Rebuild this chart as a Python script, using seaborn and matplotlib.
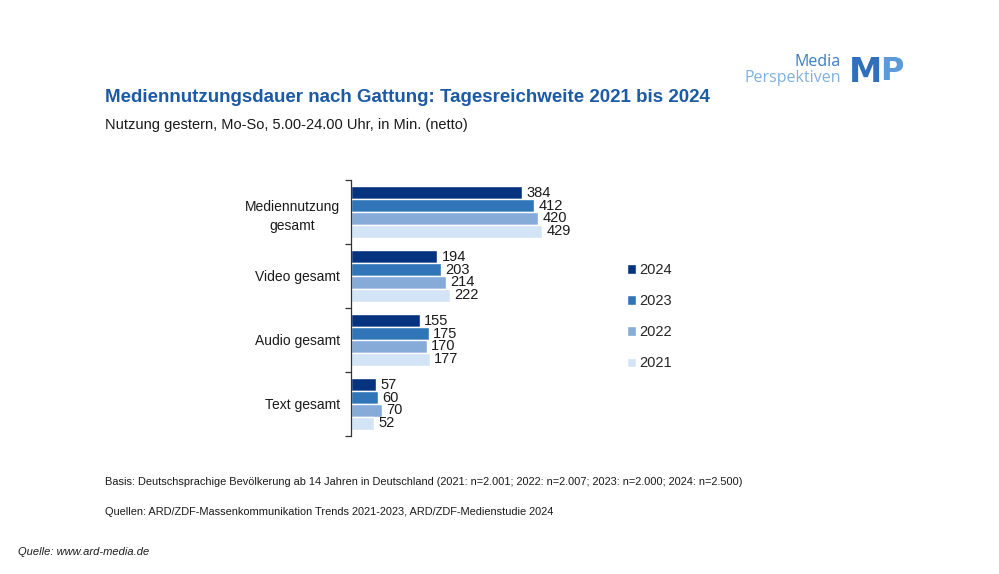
import matplotlib
matplotlib.use("Agg")
import matplotlib.pyplot as plt
import seaborn as sns
import pandas as pd

categories = ["Mediennutzung\ngesamt", "Video gesamt", "Audio gesamt", "Text gesamt"]
years = ["2024", "2023", "2022", "2021"]
values_2024 = [384, 194, 155, 57]
values_2023 = [412, 203, 175, 60]
values_2022 = [420, 214, 170, 70]
values_2021 = [429, 222, 177, 52]
colors = ["#06337f", "#2f75b7", "#86abd8", "#d3e4f7"]

series = {"2024": values_2024, "2023": values_2023, "2022": values_2022, "2021": values_2021}
rows = []
for y in years:
    for c, v in zip(categories, series[y]):
        rows.append({"Kategorie": c, "Jahr": y, "Wert": v})
df = pd.DataFrame(rows)

sns.set_style("white")
FONT = ["Liberation Sans", "DejaVu Sans"]
plt.rcParams["font.family"] = FONT

fig = plt.figure(figsize=(9.99, 5.74), dpi=100)
ax = fig.add_axes([351 / 999, 1 - 436 / 574, 222.6 / 999, 256 / 574])

sns.barplot(data=df, y="Kategorie", x="Wert", hue="Jahr", hue_order=years,
            order=categories, palette=colors, orient="h", width=0.8,
            saturation=1, ax=ax, legend=True)

for cont in ax.containers:
    ax.bar_label(cont, padding=3, fontsize=10.5, color="#1a1a1a")

ax.set_xlim(0, 500)
ax.set_ylim(3.5, -0.5)
ax.set_xlabel("")
ax.set_ylabel("")
ax.set_xticks([])
ax.set_yticks([-0.5, 0.5, 1.5, 2.5, 3.5])
ax.set_yticklabels([])
ax.set_yticks(range(len(categories)), minor=True)
ax.set_yticklabels(categories, minor=True, fontsize=10, color="#1a1a1a", linespacing=1.5)
for lbl in ax.get_yticklabels(minor=True):
    lbl.set_multialignment("center")
ax.tick_params(axis="y", which="major", length=4, width=0.9, color="#333333", direction="out", left=True)
ax.tick_params(axis="y", which="minor", length=0, pad=8)
for s in ["top", "right", "bottom"]:
    ax.spines[s].set_visible(False)
ax.spines["left"].set_color("#333333")
ax.spines["left"].set_linewidth(0.9)

handles, labels = ax.get_legend_handles_labels()
ax.get_legend().remove()
fig.legend(handles, labels, loc="upper left", bbox_to_anchor=(614 / 999, 1 - 250 / 574),
           frameon=False, handlelength=0.6, handleheight=0.6, handletextpad=0.2,
           labelspacing=1.17, prop={"size": 10.5})

# Titles
fig.text(105 / 999, 1 - 97 / 574, "Mediennutzungsdauer nach Gattung: Tagesreichweite 2021 bis 2024",
         fontsize=13.5, fontweight="bold", color="#1c5aa6", va="center", ha="left")
fig.text(105 / 999, 1 - 125 / 574, "Nutzung gestern, Mo-So, 5.00-24.00 Uhr, in Min. (netto)",
         fontsize=10.5, color="#1a1a1a", va="center", ha="left")

# Footer
fig.text(105 / 999, 1 - 482 / 574,
         "Basis: Deutschsprachige Bevölkerung ab 14 Jahren in Deutschland (2021: n=2.001; 2022: n=2.007; 2023: n=2.000; 2024: n=2.500)",
         fontsize=7.9, color="#1a1a1a", va="center", ha="left")
fig.text(105 / 999, 1 - 512 / 574,
         "Quellen: ARD/ZDF-Massenkommunikation Trends 2021-2023, ARD/ZDF-Medienstudie 2024",
         fontsize=7.9, color="#1a1a1a", va="center", ha="left")
fig.text(18 / 999, 1 - 552 / 574, "Quelle: www.ard-media.de",
         fontsize=8, style="italic", color="#1a1a1a", va="center", ha="left")

# Logo
fig.text(841 / 999, 1 - 62 / 574, "Media", fontsize=11.5, color="#3a7cc4", ha="right", va="center",
         family=["Open Sans", "DejaVu Sans"])
fig.text(841 / 999, 1 - 78 / 574, "Perspektiven", fontsize=11.5, color="#7fb0e0", ha="right", va="center",
         family=["Open Sans", "DejaVu Sans"])
fig.text(849 / 999, 1 - 73 / 574, "M", fontsize=24, fontweight="bold", color="#2f6fbe", ha="left", va="center",
         family=["DejaVu Sans"])
fig.text(880 / 999, 1 - 71 / 574, "P", fontsize=23, fontweight="bold", color="#5d9ad8", ha="left", va="center",
         family=["DejaVu Sans"])

fig.savefig("out.png", dpi=100)
